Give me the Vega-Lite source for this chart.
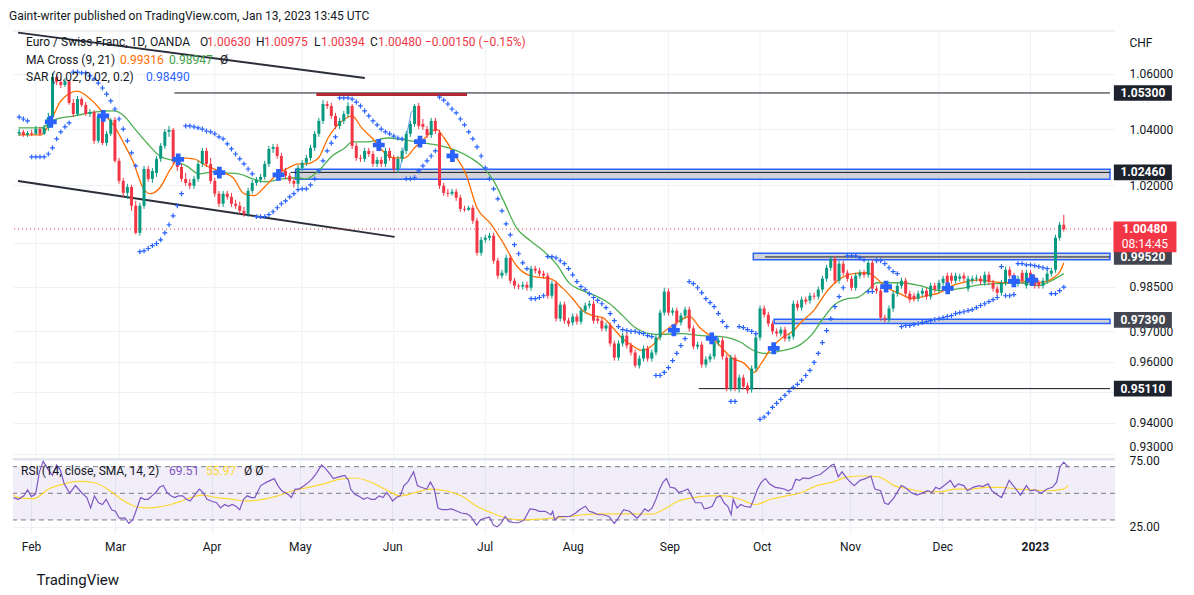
{
  "$schema": "https://vega.github.io/schema/vega-lite/v6.json",
  "background": "white",
  "padding": {"left": 8, "top": 9, "right": 6, "bottom": 6},
  "spacing": 1,
  "bounds": "flush",
  "title": {"text": "Gaint-writer published on TradingView.com, Jan 13, 2023 13:45 UTC", "anchor": "start", "fontSize": 12, "fontWeight": "normal", "color": "#131722", "offset": 6, "dx": -2},
  "config": {
    "font": "Roboto",
    "view": {"stroke": null},
    "axis": {"gridColor": "#eef1f6", "gridWidth": 1, "domain": false, "ticks": false, "labelColor": "#131722", "labelFontSize": 12, "labelOverlap": false, "labelFlush": false, "labelBound": false},
    "text": {"fontSize": 12}
  },
  "datasets": {
    "candles": [
      {"t":-4,"o":1.0383,"h":1.0400,"l":1.0375,"c":1.0390},
      {"t":-3,"o":1.0390,"h":1.0397,"l":1.0372,"c":1.0379},
      {"t":-2,"o":1.0379,"h":1.0393,"l":1.0372,"c":1.0386},
      {"t":-1,"o":1.0386,"h":1.0397,"l":1.0375,"c":1.0383},
      {"t":0,"o":1.0383,"h":1.0411,"l":1.0379,"c":1.0400},
      {"t":1,"o":1.0400,"h":1.0408,"l":1.0375,"c":1.0383},
      {"t":2,"o":1.0383,"h":1.0415,"l":1.0379,"c":1.0404},
      {"t":3,"o":1.0404,"h":1.0458,"l":1.0393,"c":1.0443},
      {"t":4,"o":1.0443,"h":1.0603,"l":1.0440,"c":1.0588},
      {"t":5,"o":1.0588,"h":1.0595,"l":1.0559,"c":1.0570},
      {"t":6,"o":1.0570,"h":1.0581,"l":1.0548,"c":1.0559},
      {"t":7,"o":1.0559,"h":1.0584,"l":1.0552,"c":1.0573},
      {"t":8,"o":1.0573,"h":1.0577,"l":1.0487,"c":1.0494},
      {"t":9,"o":1.0494,"h":1.0508,"l":1.0443,"c":1.0454},
      {"t":10,"o":1.0454,"h":1.0519,"l":1.0447,"c":1.0508},
      {"t":11,"o":1.0508,"h":1.0515,"l":1.0479,"c":1.0487},
      {"t":12,"o":1.0487,"h":1.0497,"l":1.0447,"c":1.0454},
      {"t":13,"o":1.0454,"h":1.0472,"l":1.0443,"c":1.0461},
      {"t":14,"o":1.0461,"h":1.0468,"l":1.0347,"c":1.0358},
      {"t":15,"o":1.0358,"h":1.0454,"l":1.0350,"c":1.0447},
      {"t":16,"o":1.0447,"h":1.0458,"l":1.0343,"c":1.0350},
      {"t":17,"o":1.0350,"h":1.0393,"l":1.0340,"c":1.0383},
      {"t":18,"o":1.0383,"h":1.0440,"l":1.0375,"c":1.0433},
      {"t":19,"o":1.0433,"h":1.0443,"l":1.0280,"c":1.0287},
      {"t":20,"o":1.0287,"h":1.0297,"l":1.0206,"c":1.0216},
      {"t":21,"o":1.0216,"h":1.0227,"l":1.0160,"c":1.0174},
      {"t":22,"o":1.0174,"h":1.0206,"l":1.0153,"c":1.0195},
      {"t":23,"o":1.0195,"h":1.0202,"l":1.0111,"c":1.0129},
      {"t":24,"o":1.0129,"h":1.0146,"l":1.0030,"c":1.0035},
      {"t":25,"o":1.0035,"h":1.0139,"l":1.0025,"c":1.0129},
      {"t":26,"o":1.0129,"h":1.0269,"l":1.0118,"c":1.0258},
      {"t":27,"o":1.0258,"h":1.0269,"l":1.0213,"c":1.0223},
      {"t":28,"o":1.0223,"h":1.0262,"l":1.0209,"c":1.0251},
      {"t":29,"o":1.0244,"h":1.0304,"l":1.0230,"c":1.0294},
      {"t":30,"o":1.0294,"h":1.0350,"l":1.0283,"c":1.0340},
      {"t":31,"o":1.0340,"h":1.0400,"l":1.0329,"c":1.0390},
      {"t":32,"o":1.0390,"h":1.0411,"l":1.0372,"c":1.0397},
      {"t":33,"o":1.0397,"h":1.0404,"l":1.0276,"c":1.0287},
      {"t":34,"o":1.0287,"h":1.0304,"l":1.0251,"c":1.0265},
      {"t":35,"o":1.0265,"h":1.0276,"l":1.0213,"c":1.0223},
      {"t":36,"o":1.0223,"h":1.0244,"l":1.0199,"c":1.0209},
      {"t":37,"o":1.0209,"h":1.0223,"l":1.0188,"c":1.0199},
      {"t":38,"o":1.0199,"h":1.0234,"l":1.0188,"c":1.0223},
      {"t":39,"o":1.0223,"h":1.0287,"l":1.0213,"c":1.0276},
      {"t":40,"o":1.0276,"h":1.0333,"l":1.0265,"c":1.0322},
      {"t":41,"o":1.0322,"h":1.0333,"l":1.0265,"c":1.0276},
      {"t":42,"o":1.0276,"h":1.0297,"l":1.0206,"c":1.0216},
      {"t":43,"o":1.0216,"h":1.0227,"l":1.0160,"c":1.0171},
      {"t":44,"o":1.0171,"h":1.0181,"l":1.0125,"c":1.0136},
      {"t":45,"o":1.0136,"h":1.0181,"l":1.0125,"c":1.0171},
      {"t":46,"o":1.0171,"h":1.0181,"l":1.0150,"c":1.0160},
      {"t":47,"o":1.0160,"h":1.0174,"l":1.0125,"c":1.0136},
      {"t":48,"o":1.0136,"h":1.0150,"l":1.0118,"c":1.0129},
      {"t":49,"o":1.0129,"h":1.0143,"l":1.0101,"c":1.0111},
      {"t":50,"o":1.0111,"h":1.0125,"l":1.0091,"c":1.0101},
      {"t":51,"o":1.0101,"h":1.0192,"l":1.0091,"c":1.0181},
      {"t":52,"o":1.0181,"h":1.0220,"l":1.0171,"c":1.0209},
      {"t":53,"o":1.0209,"h":1.0230,"l":1.0199,"c":1.0220},
      {"t":54,"o":1.0220,"h":1.0241,"l":1.0209,"c":1.0230},
      {"t":55,"o":1.0230,"h":1.0287,"l":1.0220,"c":1.0276},
      {"t":56,"o":1.0276,"h":1.0340,"l":1.0265,"c":1.0329},
      {"t":57,"o":1.0329,"h":1.0347,"l":1.0315,"c":1.0336},
      {"t":58,"o":1.0336,"h":1.0347,"l":1.0294,"c":1.0304},
      {"t":59,"o":1.0304,"h":1.0315,"l":1.0241,"c":1.0251},
      {"t":60,"o":1.0251,"h":1.0262,"l":1.0223,"c":1.0234},
      {"t":61,"o":1.0234,"h":1.0244,"l":1.0206,"c":1.0216},
      {"t":62,"o":1.0216,"h":1.0227,"l":1.0192,"c":1.0206},
      {"t":63,"o":1.0206,"h":1.0272,"l":1.0195,"c":1.0262},
      {"t":64,"o":1.0262,"h":1.0290,"l":1.0251,"c":1.0280},
      {"t":65,"o":1.0280,"h":1.0308,"l":1.0269,"c":1.0297},
      {"t":66,"o":1.0297,"h":1.0343,"l":1.0287,"c":1.0333},
      {"t":67,"o":1.0333,"h":1.0393,"l":1.0322,"c":1.0383},
      {"t":68,"o":1.0383,"h":1.0440,"l":1.0372,"c":1.0429},
      {"t":69,"o":1.0429,"h":1.0504,"l":1.0418,"c":1.0490},
      {"t":70,"o":1.0490,"h":1.0501,"l":1.0472,"c":1.0483},
      {"t":71,"o":1.0483,"h":1.0494,"l":1.0436,"c":1.0447},
      {"t":72,"o":1.0447,"h":1.0458,"l":1.0400,"c":1.0411},
      {"t":73,"o":1.0411,"h":1.0440,"l":1.0400,"c":1.0429},
      {"t":74,"o":1.0429,"h":1.0465,"l":1.0418,"c":1.0454},
      {"t":75,"o":1.0454,"h":1.0497,"l":1.0443,"c":1.0483},
      {"t":76,"o":1.0483,"h":1.0490,"l":1.0329,"c":1.0340},
      {"t":77,"o":1.0340,"h":1.0350,"l":1.0287,"c":1.0297},
      {"t":78,"o":1.0297,"h":1.0308,"l":1.0283,"c":1.0294},
      {"t":79,"o":1.0294,"h":1.0333,"l":1.0283,"c":1.0322},
      {"t":80,"o":1.0322,"h":1.0333,"l":1.0301,"c":1.0311},
      {"t":81,"o":1.0311,"h":1.0322,"l":1.0265,"c":1.0276},
      {"t":82,"o":1.0276,"h":1.0301,"l":1.0265,"c":1.0290},
      {"t":83,"o":1.0290,"h":1.0301,"l":1.0265,"c":1.0276},
      {"t":84,"o":1.0276,"h":1.0333,"l":1.0265,"c":1.0322},
      {"t":85,"o":1.0322,"h":1.0333,"l":1.0287,"c":1.0297},
      {"t":86,"o":1.0297,"h":1.0308,"l":1.0248,"c":1.0258},
      {"t":87,"o":1.0258,"h":1.0304,"l":1.0244,"c":1.0294},
      {"t":88,"o":1.0294,"h":1.0333,"l":1.0283,"c":1.0322},
      {"t":89,"o":1.0322,"h":1.0393,"l":1.0311,"c":1.0383},
      {"t":90,"o":1.0383,"h":1.0429,"l":1.0372,"c":1.0418},
      {"t":91,"o":1.0418,"h":1.0490,"l":1.0408,"c":1.0483},
      {"t":92,"o":1.0483,"h":1.0494,"l":1.0400,"c":1.0411},
      {"t":93,"o":1.0418,"h":1.0436,"l":1.0397,"c":1.0408},
      {"t":94,"o":1.0400,"h":1.0411,"l":1.0368,"c":1.0379},
      {"t":95,"o":1.0379,"h":1.0440,"l":1.0368,"c":1.0429},
      {"t":96,"o":1.0429,"h":1.0440,"l":1.0383,"c":1.0393},
      {"t":97,"o":1.0386,"h":1.0397,"l":1.0188,"c":1.0199},
      {"t":98,"o":1.0199,"h":1.0209,"l":1.0164,"c":1.0174},
      {"t":99,"o":1.0174,"h":1.0188,"l":1.0160,"c":1.0171},
      {"t":100,"o":1.0171,"h":1.0188,"l":1.0164,"c":1.0178},
      {"t":101,"o":1.0178,"h":1.0188,"l":1.0146,"c":1.0157},
      {"t":102,"o":1.0157,"h":1.0167,"l":1.0108,"c":1.0118},
      {"t":103,"o":1.0118,"h":1.0129,"l":1.0108,"c":1.0115},
      {"t":104,"o":1.0115,"h":1.0129,"l":1.0111,"c":1.0122},
      {"t":105,"o":1.0122,"h":1.0132,"l":1.0066,"c":1.0077},
      {"t":106,"o":1.0077,"h":1.0087,"l":0.9956,"c":0.9966},
      {"t":107,"o":0.9966,"h":1.0021,"l":0.9956,"c":1.0011},
      {"t":108,"o":1.0011,"h":1.0028,"l":1.0001,"c":1.0018},
      {"t":109,"o":1.0018,"h":1.0035,"l":1.0008,"c":1.0025},
      {"t":110,"o":1.0025,"h":1.0035,"l":0.9929,"c":0.9939},
      {"t":111,"o":0.9939,"h":0.9949,"l":0.9878,"c":0.9888},
      {"t":112,"o":0.9888,"h":0.9908,"l":0.9878,"c":0.9898},
      {"t":113,"o":0.9898,"h":0.9960,"l":0.9888,"c":0.9949},
      {"t":114,"o":0.9949,"h":0.9960,"l":0.9861,"c":0.9871},
      {"t":115,"o":0.9871,"h":0.9881,"l":0.9844,"c":0.9854},
      {"t":116,"o":0.9854,"h":0.9861,"l":0.9841,"c":0.9851},
      {"t":117,"o":0.9851,"h":0.9868,"l":0.9841,"c":0.9857},
      {"t":118,"o":0.9857,"h":0.9868,"l":0.9837,"c":0.9847},
      {"t":119,"o":0.9847,"h":0.9922,"l":0.9837,"c":0.9912},
      {"t":120,"o":0.9912,"h":0.9922,"l":0.9895,"c":0.9905},
      {"t":121,"o":0.9905,"h":0.9915,"l":0.9885,"c":0.9895},
      {"t":122,"o":0.9895,"h":0.9905,"l":0.9878,"c":0.9888},
      {"t":123,"o":0.9888,"h":0.9898,"l":0.9810,"c":0.9820},
      {"t":124,"o":0.9820,"h":0.9871,"l":0.9810,"c":0.9861},
      {"t":125,"o":0.9861,"h":0.9871,"l":0.9733,"c":0.9743},
      {"t":126,"o":0.9743,"h":0.9800,"l":0.9733,"c":0.9790},
      {"t":127,"o":0.9790,"h":0.9800,"l":0.9726,"c":0.9736},
      {"t":128,"o":0.9736,"h":0.9746,"l":0.9716,"c":0.9726},
      {"t":129,"o":0.9730,"h":0.9760,"l":0.9720,"c":0.9750},
      {"t":130,"o":0.9750,"h":0.9760,"l":0.9723,"c":0.9733},
      {"t":131,"o":0.9733,"h":0.9780,"l":0.9723,"c":0.9770},
      {"t":132,"o":0.9770,"h":0.9797,"l":0.9760,"c":0.9787},
      {"t":133,"o":0.9787,"h":0.9804,"l":0.9777,"c":0.9793},
      {"t":134,"o":0.9793,"h":0.9804,"l":0.9726,"c":0.9736},
      {"t":135,"o":0.9743,"h":0.9753,"l":0.9726,"c":0.9736},
      {"t":136,"o":0.9736,"h":0.9746,"l":0.9700,"c":0.9710},
      {"t":137,"o":0.9710,"h":0.9730,"l":0.9700,"c":0.9720},
      {"t":138,"o":0.9720,"h":0.9730,"l":0.9650,"c":0.9660},
      {"t":139,"o":0.9660,"h":0.9670,"l":0.9603,"c":0.9613},
      {"t":140,"o":0.9613,"h":0.9670,"l":0.9603,"c":0.9660},
      {"t":141,"o":0.9660,"h":0.9696,"l":0.9650,"c":0.9686},
      {"t":142,"o":0.9686,"h":0.9696,"l":0.9643,"c":0.9653},
      {"t":143,"o":0.9653,"h":0.9663,"l":0.9620,"c":0.9630},
      {"t":144,"o":0.9630,"h":0.9640,"l":0.9580,"c":0.9587},
      {"t":145,"o":0.9587,"h":0.9620,"l":0.9577,"c":0.9610},
      {"t":146,"o":0.9610,"h":0.9653,"l":0.9600,"c":0.9643},
      {"t":147,"o":0.9643,"h":0.9653,"l":0.9600,"c":0.9610},
      {"t":148,"o":0.9610,"h":0.9640,"l":0.9600,"c":0.9630},
      {"t":149,"o":0.9630,"h":0.9690,"l":0.9620,"c":0.9680},
      {"t":150,"o":0.9680,"h":0.9773,"l":0.9670,"c":0.9763},
      {"t":151,"o":0.9763,"h":0.9847,"l":0.9753,"c":0.9834},
      {"t":152,"o":0.9834,"h":0.9844,"l":0.9753,"c":0.9763},
      {"t":153,"o":0.9763,"h":0.9780,"l":0.9753,"c":0.9770},
      {"t":154,"o":0.9770,"h":0.9780,"l":0.9720,"c":0.9730},
      {"t":155,"o":0.9730,"h":0.9763,"l":0.9720,"c":0.9753},
      {"t":156,"o":0.9753,"h":0.9783,"l":0.9743,"c":0.9773},
      {"t":157,"o":0.9773,"h":0.9783,"l":0.9700,"c":0.9710},
      {"t":158,"o":0.9710,"h":0.9720,"l":0.9640,"c":0.9650},
      {"t":159,"o":0.9650,"h":0.9666,"l":0.9640,"c":0.9656},
      {"t":160,"o":0.9656,"h":0.9666,"l":0.9580,"c":0.9590},
      {"t":161,"o":0.9590,"h":0.9617,"l":0.9580,"c":0.9607},
      {"t":162,"o":0.9607,"h":0.9627,"l":0.9597,"c":0.9617},
      {"t":163,"o":0.9617,"h":0.9673,"l":0.9607,"c":0.9663},
      {"t":164,"o":0.9663,"h":0.9680,"l":0.9653,"c":0.9670},
      {"t":165,"o":0.9670,"h":0.9680,"l":0.9607,"c":0.9617},
      {"t":166,"o":0.9613,"h":0.9623,"l":0.9502,"c":0.9511},
      {"t":167,"o":0.9511,"h":0.9623,"l":0.9502,"c":0.9613},
      {"t":168,"o":0.9613,"h":0.9623,"l":0.9502,"c":0.9511},
      {"t":169,"o":0.9511,"h":0.9557,"l":0.9498,"c":0.9547},
      {"t":170,"o":0.9547,"h":0.9557,"l":0.9508,"c":0.9518},
      {"t":171,"o":0.9521,"h":0.9531,"l":0.9495,"c":0.9505},
      {"t":172,"o":0.9508,"h":0.9587,"l":0.9498,"c":0.9577},
      {"t":173,"o":0.9577,"h":0.9690,"l":0.9567,"c":0.9680},
      {"t":174,"o":0.9680,"h":0.9787,"l":0.9670,"c":0.9777},
      {"t":175,"o":0.9777,"h":0.9787,"l":0.9746,"c":0.9756},
      {"t":176,"o":0.9756,"h":0.9766,"l":0.9716,"c":0.9726},
      {"t":177,"o":0.9726,"h":0.9736,"l":0.9690,"c":0.9700},
      {"t":178,"o":0.9700,"h":0.9710,"l":0.9683,"c":0.9693},
      {"t":179,"o":0.9693,"h":0.9716,"l":0.9683,"c":0.9706},
      {"t":180,"o":0.9706,"h":0.9716,"l":0.9666,"c":0.9676},
      {"t":181,"o":0.9676,"h":0.9693,"l":0.9666,"c":0.9683},
      {"t":182,"o":0.9683,"h":0.9804,"l":0.9673,"c":0.9793},
      {"t":183,"o":0.9793,"h":0.9804,"l":0.9770,"c":0.9780},
      {"t":184,"o":0.9780,"h":0.9817,"l":0.9770,"c":0.9807},
      {"t":185,"o":0.9807,"h":0.9817,"l":0.9790,"c":0.9800},
      {"t":186,"o":0.9804,"h":0.9830,"l":0.9793,"c":0.9820},
      {"t":187,"o":0.9820,"h":0.9830,"l":0.9807,"c":0.9817},
      {"t":188,"o":0.9817,"h":0.9851,"l":0.9807,"c":0.9841},
      {"t":189,"o":0.9841,"h":0.9888,"l":0.9830,"c":0.9878},
      {"t":190,"o":0.9878,"h":0.9925,"l":0.9868,"c":0.9915},
      {"t":191,"o":0.9915,"h":0.9956,"l":0.9905,"c":0.9946},
      {"t":192,"o":0.9946,"h":0.9956,"l":0.9861,"c":0.9871},
      {"t":193,"o":0.9871,"h":0.9939,"l":0.9861,"c":0.9929},
      {"t":194,"o":0.9929,"h":0.9939,"l":0.9888,"c":0.9898},
      {"t":195,"o":0.9898,"h":0.9908,"l":0.9868,"c":0.9878},
      {"t":196,"o":0.9878,"h":0.9888,"l":0.9837,"c":0.9847},
      {"t":197,"o":0.9847,"h":0.9898,"l":0.9837,"c":0.9888},
      {"t":198,"o":0.9888,"h":0.9908,"l":0.9878,"c":0.9898},
      {"t":199,"o":0.9898,"h":0.9908,"l":0.9881,"c":0.9891},
      {"t":200,"o":0.9891,"h":0.9942,"l":0.9881,"c":0.9932},
      {"t":201,"o":0.9932,"h":0.9942,"l":0.9834,"c":0.9844},
      {"t":202,"o":0.9844,"h":0.9854,"l":0.9827,"c":0.9837},
      {"t":203,"o":0.9837,"h":0.9847,"l":0.9736,"c":0.9746},
      {"t":204,"o":0.9746,"h":0.9756,"l":0.9730,"c":0.9740},
      {"t":205,"o":0.9740,"h":0.9787,"l":0.9730,"c":0.9777},
      {"t":206,"o":0.9777,"h":0.9837,"l":0.9766,"c":0.9827},
      {"t":207,"o":0.9827,"h":0.9864,"l":0.9817,"c":0.9854},
      {"t":208,"o":0.9854,"h":0.9881,"l":0.9844,"c":0.9871},
      {"t":209,"o":0.9871,"h":0.9881,"l":0.9817,"c":0.9827},
      {"t":210,"o":0.9827,"h":0.9837,"l":0.9797,"c":0.9807},
      {"t":211,"o":0.9820,"h":0.9830,"l":0.9800,"c":0.9810},
      {"t":212,"o":0.9810,"h":0.9837,"l":0.9800,"c":0.9827},
      {"t":213,"o":0.9827,"h":0.9847,"l":0.9817,"c":0.9837},
      {"t":214,"o":0.9837,"h":0.9847,"l":0.9807,"c":0.9817},
      {"t":215,"o":0.9817,"h":0.9864,"l":0.9807,"c":0.9854},
      {"t":216,"o":0.9854,"h":0.9864,"l":0.9830,"c":0.9841},
      {"t":217,"o":0.9841,"h":0.9874,"l":0.9830,"c":0.9864},
      {"t":218,"o":0.9864,"h":0.9888,"l":0.9854,"c":0.9878},
      {"t":219,"o":0.9888,"h":0.9898,"l":0.9854,"c":0.9864},
      {"t":220,"o":0.9888,"h":0.9898,"l":0.9861,"c":0.9871},
      {"t":221,"o":0.9871,"h":0.9898,"l":0.9861,"c":0.9888},
      {"t":222,"o":0.9878,"h":0.9895,"l":0.9868,"c":0.9885},
      {"t":223,"o":0.9888,"h":0.9898,"l":0.9868,"c":0.9878},
      {"t":224,"o":0.9844,"h":0.9888,"l":0.9834,"c":0.9878},
      {"t":225,"o":0.9871,"h":0.9888,"l":0.9861,"c":0.9878},
      {"t":226,"o":0.9878,"h":0.9891,"l":0.9868,"c":0.9881},
      {"t":227,"o":0.9878,"h":0.9888,"l":0.9857,"c":0.9868},
      {"t":228,"o":0.9864,"h":0.9902,"l":0.9854,"c":0.9891},
      {"t":229,"o":0.9891,"h":0.9902,"l":0.9857,"c":0.9868},
      {"t":230,"o":0.9864,"h":0.9874,"l":0.9834,"c":0.9844},
      {"t":231,"o":0.9844,"h":0.9854,"l":0.9820,"c":0.9830},
      {"t":232,"o":0.9830,"h":0.9874,"l":0.9820,"c":0.9864},
      {"t":233,"o":0.9864,"h":0.9919,"l":0.9854,"c":0.9908},
      {"t":234,"o":0.9908,"h":0.9919,"l":0.9878,"c":0.9888},
      {"t":235,"o":0.9888,"h":0.9898,"l":0.9851,"c":0.9861},
      {"t":236,"o":0.9861,"h":0.9888,"l":0.9851,"c":0.9878},
      {"t":237,"o":0.9898,"h":0.9908,"l":0.9861,"c":0.9871},
      {"t":238,"o":0.9854,"h":0.9908,"l":0.9844,"c":0.9898},
      {"t":239,"o":0.9898,"h":0.9908,"l":0.9868,"c":0.9878},
      {"t":240,"o":0.9881,"h":0.9891,"l":0.9844,"c":0.9854},
      {"t":241,"o":0.9864,"h":0.9874,"l":0.9844,"c":0.9854},
      {"t":242,"o":0.9854,"h":0.9881,"l":0.9844,"c":0.9871},
      {"t":243,"o":0.9871,"h":0.9905,"l":0.9861,"c":0.9895},
      {"t":244,"o":0.9895,"h":0.9915,"l":0.9885,"c":0.9905},
      {"t":245,"o":0.9908,"h":1.0028,"l":0.9898,"c":1.0018},
      {"t":246,"o":1.0018,"h":1.0073,"l":1.0008,"c":1.0063},
      {"t":247,"o":1.0063,"h":1.00975,"l":1.00394,"c":1.0048}
    ],
    "sar": [
      {"t":-4,"v":1.0443},{"t":-3,"v":1.0436},{"t":-2,"v":1.0429},{"t":-1,"v":1.0301},{"t":0,"v":1.0301},{"t":1,"v":1.0301},{"t":2,"v":1.0301},{"t":3,"v":1.0311},{"t":4,"v":1.0333},{"t":5,"v":1.0365},{"t":6,"v":1.0390},{"t":7,"v":1.0408},{"t":8,"v":1.0422},
      {"t":9,"v":1.0606},{"t":10,"v":1.0606},{"t":11,"v":1.0603},{"t":12,"v":1.0603},{"t":13,"v":1.0592},{"t":14,"v":1.0581},{"t":15,"v":1.0566},{"t":16,"v":1.0548},{"t":17,"v":1.0526},{"t":18,"v":1.0501},{"t":19,"v":1.0472},{"t":20,"v":1.0436},{"t":21,"v":1.0400},{"t":22,"v":1.0358},{"t":23,"v":1.0315},{"t":24,"v":1.0269},
      {"t":25,"v":0.9970},{"t":26,"v":0.9973},{"t":27,"v":0.9981},{"t":28,"v":0.9991},{"t":29,"v":0.9998},{"t":30,"v":1.0011},{"t":31,"v":1.0035},{"t":32,"v":1.0063},{"t":33,"v":1.0094},{"t":34,"v":1.0129},{"t":35,"v":1.0171},
      {"t":36,"v":1.0411},{"t":37,"v":1.0411},{"t":38,"v":1.0408},{"t":39,"v":1.0404},{"t":40,"v":1.0400},{"t":41,"v":1.0393},{"t":42,"v":1.0390},{"t":43,"v":1.0383},{"t":44,"v":1.0372},{"t":45,"v":1.0365},{"t":46,"v":1.0347},{"t":47,"v":1.0329},{"t":48,"v":1.0311},{"t":49,"v":1.0294},{"t":50,"v":1.0276},{"t":51,"v":1.0258},{"t":52,"v":1.0241},
      {"t":53,"v":1.0091},{"t":54,"v":1.0091},{"t":55,"v":1.0091},{"t":56,"v":1.0098},{"t":57,"v":1.0108},{"t":58,"v":1.0122},{"t":59,"v":1.0136},{"t":60,"v":1.0146},{"t":61,"v":1.0160},{"t":62,"v":1.0171},{"t":63,"v":1.0185},{"t":64,"v":1.0188},{"t":65,"v":1.0188},{"t":66,"v":1.0202},{"t":67,"v":1.0223},{"t":68,"v":1.0251},{"t":69,"v":1.0287},{"t":70,"v":1.0322},{"t":71,"v":1.0350},{"t":72,"v":1.0372},
      {"t":73,"v":1.0512},{"t":74,"v":1.0512},{"t":75,"v":1.0512},{"t":76,"v":1.0508},{"t":77,"v":1.0497},{"t":78,"v":1.0483},{"t":79,"v":1.0465},{"t":80,"v":1.0447},{"t":81,"v":1.0429},{"t":82,"v":1.0415},{"t":83,"v":1.0400},{"t":84,"v":1.0390},{"t":85,"v":1.0383},{"t":86,"v":1.0375},{"t":87,"v":1.0368},{"t":88,"v":1.0365},
      {"t":89,"v":1.0223},{"t":90,"v":1.0223},{"t":91,"v":1.0227},{"t":92,"v":1.0251},{"t":93,"v":1.0269},{"t":94,"v":1.0287},{"t":95,"v":1.0304},{"t":96,"v":1.0322},
      {"t":97,"v":1.0515},{"t":98,"v":1.0504},{"t":99,"v":1.0490},{"t":100,"v":1.0472},{"t":101,"v":1.0458},{"t":102,"v":1.0436},{"t":103,"v":1.0415},{"t":104,"v":1.0390},{"t":105,"v":1.0365},{"t":106,"v":1.0336},{"t":107,"v":1.0304},{"t":108,"v":1.0262},{"t":109,"v":1.0223},{"t":110,"v":1.0188},{"t":111,"v":1.0153},{"t":112,"v":1.0111},{"t":113,"v":1.0066},{"t":114,"v":1.0028},{"t":115,"v":0.9994},{"t":116,"v":0.9963},{"t":117,"v":0.9932},{"t":118,"v":0.9912},
      {"t":119,"v":0.9810},{"t":120,"v":0.9810},{"t":121,"v":0.9814},{"t":122,"v":0.9820},
      {"t":123,"v":0.9953},{"t":124,"v":0.9953},{"t":125,"v":0.9949},{"t":126,"v":0.9939},{"t":127,"v":0.9929},{"t":128,"v":0.9912},{"t":129,"v":0.9891},{"t":130,"v":0.9868},{"t":131,"v":0.9851},{"t":132,"v":0.9841},{"t":133,"v":0.9827},{"t":134,"v":0.9814},{"t":135,"v":0.9804},{"t":136,"v":0.9793},{"t":137,"v":0.9780},{"t":138,"v":0.9760},{"t":139,"v":0.9736},{"t":140,"v":0.9716},{"t":141,"v":0.9706},{"t":142,"v":0.9703},{"t":143,"v":0.9700},{"t":144,"v":0.9700},{"t":145,"v":0.9696},{"t":146,"v":0.9693},{"t":147,"v":0.9686},{"t":148,"v":0.9683},
      {"t":149,"v":0.9554},{"t":150,"v":0.9554},{"t":151,"v":0.9564},{"t":152,"v":0.9580},{"t":153,"v":0.9603},{"t":154,"v":0.9627},{"t":155,"v":0.9653},{"t":156,"v":0.9676},
      {"t":157,"v":0.9868},{"t":158,"v":0.9861},{"t":159,"v":0.9847},{"t":160,"v":0.9830},{"t":161,"v":0.9810},{"t":162,"v":0.9797},{"t":163,"v":0.9783},{"t":164,"v":0.9760},{"t":165,"v":0.9733},{"t":166,"v":0.9716},
      {"t":167,"v":0.9469},{"t":168,"v":0.9469},
      {"t":169,"v":0.9716},{"t":170,"v":0.9713},{"t":171,"v":0.9706},{"t":172,"v":0.9700},{"t":173,"v":0.9693},
      {"t":174,"v":0.9411},{"t":175,"v":0.9418},{"t":176,"v":0.9431},{"t":177,"v":0.9450},{"t":178,"v":0.9463},{"t":179,"v":0.9476},{"t":180,"v":0.9489},{"t":181,"v":0.9502},{"t":182,"v":0.9515},{"t":183,"v":0.9525},{"t":184,"v":0.9538},{"t":185,"v":0.9554},{"t":186,"v":0.9571},{"t":187,"v":0.9597},{"t":188,"v":0.9627},{"t":189,"v":0.9663},{"t":190,"v":0.9703},{"t":191,"v":0.9743},{"t":192,"v":0.9783},{"t":193,"v":0.9817},{"t":194,"v":0.9847},
      {"t":195,"v":0.9956},{"t":196,"v":0.9956},{"t":197,"v":0.9956},{"t":198,"v":0.9949},{"t":199,"v":0.9942},
      {"t":200,"v":0.9834},{"t":201,"v":0.9834},
      {"t":202,"v":0.9939},{"t":203,"v":0.9939},{"t":204,"v":0.9929},{"t":205,"v":0.9915},{"t":206,"v":0.9902},{"t":207,"v":0.9895},
      {"t":208,"v":0.9716},{"t":209,"v":0.9720},{"t":210,"v":0.9720},{"t":211,"v":0.9723},{"t":212,"v":0.9726},{"t":213,"v":0.9730},{"t":214,"v":0.9733},{"t":215,"v":0.9736},{"t":216,"v":0.9740},{"t":217,"v":0.9743},{"t":218,"v":0.9746},{"t":219,"v":0.9750},{"t":220,"v":0.9753},{"t":221,"v":0.9760},{"t":222,"v":0.9763},{"t":223,"v":0.9766},{"t":224,"v":0.9770},{"t":225,"v":0.9773},{"t":226,"v":0.9780},{"t":227,"v":0.9787},{"t":228,"v":0.9793},{"t":229,"v":0.9800},{"t":230,"v":0.9807},{"t":231,"v":0.9814},
      {"t":232,"v":0.9919},
      {"t":233,"v":0.9820},{"t":234,"v":0.9820},{"t":235,"v":0.9824},
      {"t":236,"v":0.9929},{"t":237,"v":0.9929},{"t":238,"v":0.9925},{"t":239,"v":0.9925},{"t":240,"v":0.9922},{"t":241,"v":0.9919},{"t":242,"v":0.9915},{"t":243,"v":0.9912},
      {"t":244,"v":0.9827},{"t":245,"v":0.9827},{"t":246,"v":0.9837},{"t":247,"v":0.9849}
    ],
    "ma9": [
      {"t":-4.2,"v":1.0379},{"t":1.2,"v":1.0379},{"t":3.6,"v":1.0429},{"t":6,"v":1.0501},{"t":10,"v":1.0537},{"t":13.1,"v":1.0508},{"t":16.4,"v":1.0454},{"t":18.8,"v":1.0411},{"t":21.2,"v":1.0347},{"t":23.6,"v":1.0276},{"t":25.5,"v":1.0199},{"t":27.4,"v":1.0171},{"t":29.8,"v":1.0192},{"t":32.1,"v":1.0251},{"t":34.5,"v":1.0297},{"t":37.9,"v":1.0294},{"t":41,"v":1.0269},{"t":44,"v":1.0251},{"t":47.4,"v":1.0227},{"t":50,"v":1.0171},{"t":52.4,"v":1.0164},{"t":54.8,"v":1.0192},{"t":57.6,"v":1.0234},{"t":60.7,"v":1.0262},{"t":63.1,"v":1.0276},{"t":64.8,"v":1.0276},{"t":67.9,"v":1.0297},{"t":70.2,"v":1.0368},{"t":73.6,"v":1.0429},{"t":76,"v":1.0447},{"t":78.3,"v":1.0404},{"t":81.4,"v":1.0358},{"t":83.8,"v":1.0315},{"t":86.2,"v":1.0297},{"t":88.6,"v":1.0297},{"t":91,"v":1.0333},{"t":93.3,"v":1.0365},{"t":96.2,"v":1.0400},{"t":98.1,"v":1.0368},{"t":100.5,"v":1.0311},{"t":103.3,"v":1.0241},{"t":106,"v":1.0122},{"t":109.3,"v":1.0066},{"t":112.4,"v":0.9998},{"t":115.5,"v":0.9922},{"t":118.8,"v":0.9888},{"t":121.9,"v":0.9881},{"t":123.6,"v":0.9878},{"t":126.7,"v":0.9844},{"t":129,"v":0.9810},{"t":131.4,"v":0.9770},{"t":133.8,"v":0.9753},{"t":136.2,"v":0.9746},{"t":138.6,"v":0.9713},{"t":141,"v":0.9676},{"t":143.3,"v":0.9653},{"t":145.7,"v":0.9637},{"t":148.1,"v":0.9653},{"t":150.5,"v":0.9693},{"t":153.6,"v":0.9726},{"t":157.1,"v":0.9750},{"t":159.5,"v":0.9713},{"t":162.4,"v":0.9680},{"t":164.8,"v":0.9646},{"t":167.1,"v":0.9613},{"t":170.2,"v":0.9594},{"t":172.6,"v":0.9564},{"t":174.3,"v":0.9594},{"t":176.7,"v":0.9644},{"t":179,"v":0.9676},{"t":182.1,"v":0.9703},{"t":183.8,"v":0.9730},{"t":186.9,"v":0.9770},{"t":190.2,"v":0.9837},{"t":193.3,"v":0.9878},{"t":196.4,"v":0.9895},{"t":199.8,"v":0.9898},{"t":201.2,"v":0.9888},{"t":204.5,"v":0.9847},{"t":207.6,"v":0.9827},{"t":210.7,"v":0.9810},{"t":214,"v":0.9820},{"t":217.1,"v":0.9830},{"t":220.2,"v":0.9854},{"t":223.6,"v":0.9868},{"t":226.7,"v":0.9874},{"t":229.8,"v":0.9868},{"t":233.1,"v":0.9864},{"t":236.2,"v":0.9871},{"t":239.3,"v":0.9864},{"t":242.6,"v":0.9868},{"t":244.5,"v":0.9881},{"t":246.2,"v":0.9905},{"t":247,"v":0.9932}
    ],
    "ma21": [
      {"t":-4.2,"v":1.0404},{"t":1.2,"v":1.0404},{"t":4.5,"v":1.0433},{"t":9.3,"v":1.0447},{"t":14,"v":1.0461},{"t":18.8,"v":1.0465},{"t":21.2,"v":1.0447},{"t":23.6,"v":1.0404},{"t":26.7,"v":1.0350},{"t":29.8,"v":1.0304},{"t":33.1,"v":1.0287},{"t":36.2,"v":1.0269},{"t":39.3,"v":1.0241},{"t":42.6,"v":1.0248},{"t":45.7,"v":1.0244},{"t":48.8,"v":1.0241},{"t":52.1,"v":1.0223},{"t":55.2,"v":1.0213},{"t":59.3,"v":1.0223},{"t":63.1,"v":1.0227},{"t":64.8,"v":1.0223},{"t":67.9,"v":1.0251},{"t":71.2,"v":1.0304},{"t":74.3,"v":1.0333},{"t":76,"v":1.0354},{"t":79.8,"v":1.0354},{"t":84.5,"v":1.0368},{"t":88.6,"v":1.0361},{"t":93.3,"v":1.0350},{"t":97.4,"v":1.0340},{"t":101.2,"v":1.0322},{"t":104.5,"v":1.0297},{"t":107.6,"v":1.0262},{"t":110,"v":1.0216},{"t":112.4,"v":1.0146},{"t":115.5,"v":1.0052},{"t":118.8,"v":1.0008},{"t":121.9,"v":0.9973},{"t":125,"v":0.9929},{"t":128.3,"v":0.9861},{"t":131.4,"v":0.9837},{"t":134.5,"v":0.9820},{"t":137.9,"v":0.9793},{"t":141,"v":0.9753},{"t":144,"v":0.9713},{"t":147.4,"v":0.9693},{"t":150.5,"v":0.9690},{"t":155.2,"v":0.9693},{"t":160,"v":0.9686},{"t":164.8,"v":0.9683},{"t":169.5,"v":0.9663},{"t":172,"v":0.9640},{"t":175,"v":0.9627},{"t":178.3,"v":0.9633},{"t":183.8,"v":0.9657},{"t":186.5,"v":0.9690},{"t":189,"v":0.9740},{"t":191.7,"v":0.9787},{"t":195,"v":0.9810},{"t":197.4,"v":0.9814},{"t":199.8,"v":0.9837},{"t":202.1,"v":0.9864},{"t":207.6,"v":0.9864},{"t":212.4,"v":0.9854},{"t":217.1,"v":0.9837},{"t":221.9,"v":0.9844},{"t":226.7,"v":0.9857},{"t":231.4,"v":0.9861},{"t":236.2,"v":0.9864},{"t":241,"v":0.9854},{"t":244,"v":0.9871},{"t":247,"v":0.9895}
    ],
    "crosses": [
      {"t":3.6,"v":1.0426},{"t":16.2,"v":1.0447},{"t":34.2,"v":1.0292},{"t":44.1,"v":1.0245},{"t":58.3,"v":1.0237},{"t":82.4,"v":1.0343},{"t":92.3,"v":1.0355},{"t":100.1,"v":1.0304},{"t":153.3,"v":0.9704},{"t":162.4,"v":0.9677},{"t":177.3,"v":0.9644},{"t":204.3,"v":0.9851},{"t":219.1,"v":0.9845},{"t":235.0,"v":0.9869},{"t":239.4,"v":0.9873}
    ],
    "rsi": [
      {"t":-4.2,"v":46.8},{"t":-3.0,"v":45.5},{"t":-1.7,"v":48.1},{"t":-0.8,"v":52.5},{"t":0.1,"v":47.5},{"t":1.1,"v":49.4},{"t":2.0,"v":66.1},{"t":2.9,"v":73.9},{"t":4.2,"v":67.4},{"t":5.1,"v":63.5},{"t":6.1,"v":71.3},{"t":7.0,"v":67.4},{"t":7.9,"v":57.1},{"t":9.2,"v":50.1},{"t":10.6,"v":55.8},{"t":12.0,"v":50.6},{"t":13.3,"v":46.8},{"t":14.2,"v":39.0},{"t":15.1,"v":48.1},{"t":16.1,"v":42.9},{"t":17.0,"v":41.6},{"t":17.9,"v":45.5},{"t":19.2,"v":37.7},{"t":20.1,"v":36.5},{"t":21.0,"v":31.3},{"t":22.4,"v":31.3},{"t":23.3,"v":27.4},{"t":24.2,"v":30.0},{"t":25.1,"v":37.7},{"t":26.1,"v":46.8},{"t":27.0,"v":45.5},{"t":27.9,"v":45.5},{"t":28.8,"v":48.1},{"t":29.7,"v":50.6},{"t":30.6,"v":54.5},{"t":31.5,"v":55.8},{"t":32.4,"v":50.6},{"t":33.3,"v":48.1},{"t":34.2,"v":46.8},{"t":35.1,"v":48.1},{"t":36.1,"v":48.1},{"t":37.0,"v":45.5},{"t":37.9,"v":44.2},{"t":38.8,"v":48.1},{"t":40.1,"v":53.2},{"t":41.0,"v":50.6},{"t":41.9,"v":45.5},{"t":42.9,"v":44.2},{"t":44.2,"v":42.9},{"t":45.1,"v":39.0},{"t":46.1,"v":41.6},{"t":47.0,"v":40.3},{"t":47.9,"v":41.6},{"t":48.8,"v":40.3},{"t":49.7,"v":37.7},{"t":50.6,"v":45.5},{"t":51.5,"v":48.1},{"t":52.4,"v":46.8},{"t":53.3,"v":46.8},{"t":54.7,"v":55.8},{"t":56.1,"v":58.4},{"t":57.0,"v":59.7},{"t":57.9,"v":61.0},{"t":58.8,"v":55.8},{"t":59.7,"v":51.9},{"t":61.1,"v":49.4},{"t":62.0,"v":46.8},{"t":62.9,"v":53.2},{"t":63.8,"v":53.2},{"t":65.1,"v":55.8},{"t":66.1,"v":58.4},{"t":67.0,"v":61.0},{"t":67.9,"v":64.8},{"t":69.2,"v":71.3},{"t":70.1,"v":68.7},{"t":71.1,"v":64.8},{"t":72.0,"v":61.0},{"t":73.3,"v":62.3},{"t":74.7,"v":63.5},{"t":75.6,"v":59.7},{"t":76.1,"v":53.2},{"t":77.0,"v":49.4},{"t":77.9,"v":48.1},{"t":79.2,"v":45.5},{"t":80.1,"v":46.8},{"t":81.0,"v":45.5},{"t":81.9,"v":45.5},{"t":82.9,"v":48.1},{"t":83.8,"v":46.8},{"t":84.7,"v":50.6},{"t":85.6,"v":46.8},{"t":86.1,"v":44.2},{"t":87.0,"v":46.8},{"t":87.9,"v":48.1},{"t":88.8,"v":55.8},{"t":89.7,"v":58.4},{"t":91.1,"v":66.1},{"t":92.0,"v":55.8},{"t":92.9,"v":54.5},{"t":94.2,"v":53.2},{"t":95.1,"v":58.4},{"t":96.0,"v":53.2},{"t":96.9,"v":39.0},{"t":97.9,"v":37.7},{"t":99.2,"v":37.7},{"t":100.1,"v":38.3},{"t":101.5,"v":36.5},{"t":102.4,"v":35.2},{"t":103.8,"v":34.6},{"t":104.7,"v":32.6},{"t":106.1,"v":26.1},{"t":107.0,"v":30.0},{"t":107.9,"v":31.3},{"t":109.2,"v":32.1},{"t":110.1,"v":26.1},{"t":111.0,"v":24.8},{"t":111.9,"v":27.4},{"t":112.9,"v":32.6},{"t":113.8,"v":28.7},{"t":115.1,"v":27.9},{"t":116.1,"v":27.9},{"t":117.4,"v":30.0},{"t":118.8,"v":38.3},{"t":120.1,"v":37.7},{"t":121.0,"v":36.5},{"t":122.4,"v":36.5},{"t":123.8,"v":33.9},{"t":124.2,"v":36.5},{"t":124.7,"v":30.0},{"t":125.6,"v":32.6},{"t":126.9,"v":32.6},{"t":128.3,"v":32.6},{"t":129.7,"v":35.2},{"t":130.6,"v":37.7},{"t":132.0,"v":40.3},{"t":132.9,"v":36.5},{"t":133.8,"v":35.7},{"t":135.1,"v":33.9},{"t":136.2,"v":33.9},{"t":137.6,"v":32.6},{"t":138.9,"v":27.4},{"t":139.8,"v":31.3},{"t":141.1,"v":37.7},{"t":142.5,"v":36.5},{"t":143.4,"v":33.9},{"t":144.3,"v":31.3},{"t":145.1,"v":33.9},{"t":146.1,"v":38.3},{"t":147.0,"v":36.5},{"t":147.9,"v":39.0},{"t":148.8,"v":45.5},{"t":149.7,"v":53.2},{"t":150.5,"v":58.4},{"t":151.3,"v":61.0},{"t":152.2,"v":54.5},{"t":153.3,"v":53.9},{"t":154.2,"v":50.6},{"t":155.5,"v":51.9},{"t":156.4,"v":53.2},{"t":157.3,"v":48.1},{"t":158.2,"v":42.9},{"t":159.6,"v":42.9},{"t":160.3,"v":38.3},{"t":161.3,"v":39.0},{"t":162.2,"v":40.3},{"t":163.2,"v":46.8},{"t":164.1,"v":48.1},{"t":165.0,"v":42.9},{"t":165.9,"v":40.3},{"t":166.7,"v":33.9},{"t":167.2,"v":45.5},{"t":168.1,"v":39.0},{"t":169.0,"v":41.6},{"t":169.9,"v":40.3},{"t":171.3,"v":39.5},{"t":172.1,"v":45.5},{"t":173.0,"v":53.2},{"t":173.9,"v":58.4},{"t":174.9,"v":61.0},{"t":175.8,"v":57.1},{"t":177.2,"v":54.5},{"t":178.4,"v":53.9},{"t":179.3,"v":53.2},{"t":180.3,"v":51.9},{"t":181.2,"v":53.2},{"t":182.1,"v":60.5},{"t":183.0,"v":59.7},{"t":183.8,"v":61.5},{"t":185.2,"v":61.0},{"t":186.6,"v":63.0},{"t":187.9,"v":64.1},{"t":189.2,"v":67.4},{"t":190.6,"v":71.3},{"t":191.2,"v":71.8},{"t":192.2,"v":62.3},{"t":193.1,"v":66.1},{"t":194.3,"v":61.0},{"t":195.1,"v":58.4},{"t":196.0,"v":55.8},{"t":197.4,"v":59.7},{"t":198.7,"v":61.0},{"t":200.0,"v":63.0},{"t":200.9,"v":53.2},{"t":202.3,"v":51.9},{"t":203.2,"v":42.9},{"t":204.1,"v":41.6},{"t":205.5,"v":46.8},{"t":207.2,"v":55.8},{"t":208.1,"v":54.5},{"t":209.5,"v":50.6},{"t":210.9,"v":48.6},{"t":212.2,"v":50.1},{"t":213.5,"v":51.9},{"t":214.5,"v":50.6},{"t":215.4,"v":54.5},{"t":216.3,"v":53.2},{"t":217.6,"v":56.3},{"t":218.9,"v":59.7},{"t":219.9,"v":54.5},{"t":220.8,"v":57.1},{"t":222.1,"v":55.8},{"t":223.0,"v":51.9},{"t":224.3,"v":54.5},{"t":225.7,"v":55.8},{"t":226.6,"v":55.0},{"t":227.9,"v":57.1},{"t":228.8,"v":51.9},{"t":230.2,"v":48.6},{"t":231.1,"v":46.8},{"t":232.9,"v":59.7},{"t":234.2,"v":54.5},{"t":235.6,"v":48.6},{"t":237.0,"v":55.8},{"t":237.9,"v":51.9},{"t":239.1,"v":52.6},{"t":240.5,"v":50.1},{"t":241.9,"v":53.2},{"t":243.2,"v":54.5},{"t":244.2,"v":58.4},{"t":245.0,"v":70.0},{"t":245.9,"v":73.4},{"t":247.0,"v":69.5}
    ],
    "rsima": [
      {"t":-4.2,"v":48.6},{"t":-3.0,"v":46.8},{"t":0.6,"v":46.0},{"t":4.2,"v":53.2},{"t":7.9,"v":57.1},{"t":11.5,"v":58.9},{"t":15.1,"v":57.9},{"t":18.8,"v":51.9},{"t":21.5,"v":45.5},{"t":24.2,"v":40.8},{"t":26.9,"v":39.0},{"t":29.7,"v":39.5},{"t":33.3,"v":41.6},{"t":37.0,"v":45.5},{"t":40.6,"v":48.6},{"t":44.2,"v":46.8},{"t":47.9,"v":45.5},{"t":51.5,"v":44.2},{"t":55.1,"v":45.5},{"t":58.8,"v":48.1},{"t":62.4,"v":51.9},{"t":66.1,"v":54.5},{"t":69.7,"v":57.1},{"t":73.3,"v":60.5},{"t":77.0,"v":61.5},{"t":80.6,"v":58.9},{"t":84.2,"v":53.2},{"t":87.9,"v":48.1},{"t":91.5,"v":50.6},{"t":95.1,"v":53.2},{"t":98.8,"v":51.9},{"t":102.4,"v":48.1},{"t":106.1,"v":40.3},{"t":109.7,"v":35.2},{"t":113.3,"v":31.3},{"t":117.0,"v":30.0},{"t":120.6,"v":30.5},{"t":124.2,"v":31.3},{"t":127.9,"v":32.6},{"t":131.5,"v":33.9},{"t":135.1,"v":34.6},{"t":139.8,"v":34.6},{"t":143.4,"v":34.6},{"t":147.9,"v":34.3},{"t":150.5,"v":37.7},{"t":154.2,"v":44.2},{"t":157.8,"v":46.8},{"t":161.5,"v":48.1},{"t":165.2,"v":48.1},{"t":168.8,"v":45.5},{"t":172.5,"v":41.6},{"t":176.1,"v":45.5},{"t":179.8,"v":48.1},{"t":183.5,"v":50.6},{"t":187.1,"v":55.8},{"t":190.8,"v":58.4},{"t":194.5,"v":62.3},{"t":198.2,"v":63.0},{"t":201.8,"v":62.3},{"t":205.5,"v":55.8},{"t":209.2,"v":53.2},{"t":212.8,"v":51.2},{"t":216.5,"v":51.2},{"t":220.1,"v":53.2},{"t":223.8,"v":53.2},{"t":227.5,"v":54.5},{"t":231.1,"v":54.5},{"t":234.8,"v":53.2},{"t":238.5,"v":52.6},{"t":242.1,"v":51.9},{"t":245.8,"v":53.2},{"t":247.0,"v":56.0}
    ]
  },
  "vconcat": [
    {
      "width": 1102,
      "height": 428,
      "layer": [
        {
          "data": {"values": [{"m": 0}, {"m": 20}, {"m": 43}, {"m": 64}, {"m": 86}, {"m": 108}, {"m": 129}, {"m": 152}, {"m": 174}, {"m": 195}, {"m": 217}, {"m": 239}]},
          "mark": {"type": "rule", "color": "#eef1f6", "strokeWidth": 1},
          "encoding": {
            "x": {"field": "m", "type": "quantitative", "scale": {"domain": [-4.286, 258.1], "nice": false, "zero": false}, "axis": null}
          }
        },
        {
          "data": {"values": [{"t0": 62.4, "p0": 1.0222, "p1": 1.0257}, {"t0": 172.4, "p0": 0.9942, "p1": 0.9965}, {"t0": 177.4, "p0": 0.9727, "p1": 0.9741}]},
          "mark": {"type": "rect", "fill": "#b2b5be", "fillOpacity": 0.6, "stroke": "#2962ff", "strokeWidth": 1.5},
          "encoding": {
            "x": {"field": "t0", "type": "quantitative"},
            "x2": {"datum": 258.1},
            "y": {"field": "p0", "type": "quantitative", "scale": {"type": "log", "domain": [0.92833, 1.0757], "nice": false},
                  "axis": {"orient": "right", "values": [1.06, 1.04, 1.02, 1.0, 0.985, 0.97, 0.96, 0.95, 0.94, 0.93], "format": ".5f",
                           "labelExpr": "datum.value == 1 || datum.value == 0.95 ? '' : datum.label", "labelPadding": 14, "grid": true,
                           "labelBaseline": {"condition": {"test": "datum.value < 0.935", "value": "bottom"}, "value": "middle"},
                           "title": "CHF", "titleAngle": 0, "titleAlign": "left", "titleBaseline": "middle", "titleX": 14, "titleY": 11,
                           "titleFontSize": 12, "titleFontWeight": "normal", "titleColor": "#131722"}},
            "y2": {"field": "p1"}
          }
        },
        {
          "data": {"values": [{}]},
          "mark": {"type": "rule", "color": "#e0e3eb", "strokeWidth": 1},
          "encoding": {"y": {"datum": 1.0757, "type": "quantitative"}}
        },
        {
          "data": {"values": [{}]},
          "mark": {"type": "rule", "color": "#e0e3eb", "strokeWidth": 2},
          "encoding": {"y": {"datum": 0.92833, "type": "quantitative"}}
        },
        {
          "data": {"values": [{"t0": 33.3, "p": 1.053}, {"t0": 61.2, "p": 1.0246}, {"t0": 175.2, "p": 0.9952}, {"t0": 159.3, "p": 0.9511}]},
          "mark": {"type": "rule", "color": "#131722", "strokeWidth": 1},
          "encoding": {"x": {"field": "t0", "type": "quantitative"}, "x2": {"datum": 258.1}, "y": {"field": "p", "type": "quantitative"}}
        },
        {
          "data": {"values": [{"t0": 67.4, "t1": 103.6, "p": 1.0524}]},
          "mark": {"type": "rule", "color": "#b22833", "strokeWidth": 3},
          "encoding": {"x": {"field": "t0", "type": "quantitative"}, "x2": {"field": "t1"}, "y": {"field": "p", "type": "quantitative"}}
        },
        {
          "data": {"values": [{"g": "a", "t": -4.28, "p": 1.0751}, {"g": "a", "t": 79.05, "p": 1.0584}, {"g": "b", "t": -4.28, "p": 1.0216}, {"g": "b", "t": 86.2, "p": 1.0021}]},
          "mark": {"type": "line", "color": "#2a2e39", "strokeWidth": 2},
          "encoding": {"x": {"field": "t", "type": "quantitative"}, "y": {"field": "p", "type": "quantitative"}, "detail": {"field": "g"}}
        },
        {
          "data": {"values": [{"t": 87.4, "p": 1.0251}, {"t": 90.2, "p": 1.0461}, {"t": 91.2, "p": 1.0472}]},
          "mark": {"type": "line", "color": "#5b9cf6", "strokeWidth": 1},
          "encoding": {"x": {"field": "t", "type": "quantitative"}, "y": {"field": "p", "type": "quantitative"}}
        },
        {
          "data": {"name": "ma21"},
          "mark": {"type": "line", "color": "#4caf50", "strokeWidth": 1.3, "interpolate": "monotone"},
          "encoding": {"x": {"field": "t", "type": "quantitative"}, "y": {"field": "v", "type": "quantitative"}}
        },
        {
          "data": {"name": "ma9"},
          "mark": {"type": "line", "color": "#ff6d00", "strokeWidth": 1.3, "interpolate": "monotone"},
          "encoding": {"x": {"field": "t", "type": "quantitative"}, "y": {"field": "v", "type": "quantitative"}}
        },
        {
          "data": {"name": "candles"},
          "mark": {"type": "rule", "strokeWidth": 1},
          "encoding": {
            "x": {"field": "t", "type": "quantitative"},
            "y": {"field": "l", "type": "quantitative"},
            "y2": {"field": "h"},
            "color": {"condition": {"test": "datum.c >= datum.o", "value": "#089981"}, "value": "#f23645"}
          }
        },
        {
          "data": {"name": "candles"},
          "mark": {"type": "bar", "size": 3},
          "encoding": {
            "x": {"field": "t", "type": "quantitative"},
            "y": {"field": "o", "type": "quantitative"},
            "y2": {"field": "c"},
            "color": {"condition": {"test": "datum.c >= datum.o", "value": "#089981"}, "value": "#f23645"}
          }
        },
        {
          "data": {"name": "sar"},
          "mark": {"type": "point", "shape": "M-1,0H1M0,-1V1", "filled": false, "size": 24, "strokeWidth": 1.2, "color": "#2962ff", "opacity": 1},
          "encoding": {"x": {"field": "t", "type": "quantitative"}, "y": {"field": "v", "type": "quantitative"}}
        },
        {
          "data": {"name": "crosses"},
          "mark": {"type": "point", "shape": "cross", "filled": true, "size": 140, "color": "#2962ff", "opacity": 1},
          "encoding": {"x": {"field": "t", "type": "quantitative"}, "y": {"field": "v", "type": "quantitative"}}
        },
        {
          "data": {"values": [{}]},
          "mark": {"type": "rule", "color": "#f23645", "strokeWidth": 1, "strokeDash": [1, 3]},
          "encoding": {"y": {"datum": 1.0048, "type": "quantitative"}}
        },
        {"data": {"values": [{}]}, "mark": {"type": "text", "text": "Euro / Swiss Franc, 1D, OANDA", "align": "left", "baseline": "middle", "dx": 8, "color": "#131722"}, "encoding": {"x": {"datum": -4.286, "type": "quantitative"}, "y": {"datum": 1.07163, "type": "quantitative"}}},
        {"data": {"values": [{}]}, "mark": {"type": "text", "text": "O", "align": "left", "baseline": "middle", "dx": 182, "color": "#131722"}, "encoding": {"x": {"datum": -4.286, "type": "quantitative"}, "y": {"datum": 1.07163, "type": "quantitative"}}},
        {"data": {"values": [{}]}, "mark": {"type": "text", "text": "1.00630", "align": "left", "baseline": "middle", "dx": 189, "color": "#f23645"}, "encoding": {"x": {"datum": -4.286, "type": "quantitative"}, "y": {"datum": 1.07163, "type": "quantitative"}}},
        {"data": {"values": [{}]}, "mark": {"type": "text", "text": "H", "align": "left", "baseline": "middle", "dx": 238, "color": "#131722"}, "encoding": {"x": {"datum": -4.286, "type": "quantitative"}, "y": {"datum": 1.07163, "type": "quantitative"}}},
        {"data": {"values": [{}]}, "mark": {"type": "text", "text": "1.00975", "align": "left", "baseline": "middle", "dx": 246, "color": "#f23645"}, "encoding": {"x": {"datum": -4.286, "type": "quantitative"}, "y": {"datum": 1.07163, "type": "quantitative"}}},
        {"data": {"values": [{}]}, "mark": {"type": "text", "text": "L", "align": "left", "baseline": "middle", "dx": 296, "color": "#131722"}, "encoding": {"x": {"datum": -4.286, "type": "quantitative"}, "y": {"datum": 1.07163, "type": "quantitative"}}},
        {"data": {"values": [{}]}, "mark": {"type": "text", "text": "1.00394", "align": "left", "baseline": "middle", "dx": 303, "color": "#f23645"}, "encoding": {"x": {"datum": -4.286, "type": "quantitative"}, "y": {"datum": 1.07163, "type": "quantitative"}}},
        {"data": {"values": [{}]}, "mark": {"type": "text", "text": "C", "align": "left", "baseline": "middle", "dx": 352, "color": "#131722"}, "encoding": {"x": {"datum": -4.286, "type": "quantitative"}, "y": {"datum": 1.07163, "type": "quantitative"}}},
        {"data": {"values": [{}]}, "mark": {"type": "text", "text": "1.00480", "align": "left", "baseline": "middle", "dx": 360, "color": "#f23645"}, "encoding": {"x": {"datum": -4.286, "type": "quantitative"}, "y": {"datum": 1.07163, "type": "quantitative"}}},
        {"data": {"values": [{}]}, "mark": {"type": "text", "text": "−0.00150 (−0.15%)", "align": "left", "baseline": "middle", "dx": 407, "color": "#f23645"}, "encoding": {"x": {"datum": -4.286, "type": "quantitative"}, "y": {"datum": 1.07163, "type": "quantitative"}}},
        {"data": {"values": [{}]}, "mark": {"type": "text", "text": "MA Cross (9, 21)", "align": "left", "baseline": "middle", "dx": 8, "color": "#131722"}, "encoding": {"x": {"datum": -4.286, "type": "quantitative"}, "y": {"datum": 1.06512, "type": "quantitative"}}},
        {"data": {"values": [{}]}, "mark": {"type": "text", "text": "0.99316", "align": "left", "baseline": "middle", "dx": 102, "color": "#ff6d00"}, "encoding": {"x": {"datum": -4.286, "type": "quantitative"}, "y": {"datum": 1.06512, "type": "quantitative"}}},
        {"data": {"values": [{}]}, "mark": {"type": "text", "text": "0.98947", "align": "left", "baseline": "middle", "dx": 151, "color": "#43a047"}, "encoding": {"x": {"datum": -4.286, "type": "quantitative"}, "y": {"datum": 1.06512, "type": "quantitative"}}},
        {"data": {"values": [{}]}, "mark": {"type": "text", "text": "Ø", "align": "left", "baseline": "middle", "dx": 202, "color": "#131722"}, "encoding": {"x": {"datum": -4.286, "type": "quantitative"}, "y": {"datum": 1.06512, "type": "quantitative"}}},
        {"data": {"values": [{}]}, "mark": {"type": "text", "text": "SAR (0.02, 0.02, 0.2)", "align": "left", "baseline": "middle", "dx": 8, "color": "#131722"}, "encoding": {"x": {"datum": -4.286, "type": "quantitative"}, "y": {"datum": 1.0588, "type": "quantitative"}}},
        {"data": {"values": [{}]}, "mark": {"type": "text", "text": "0.98490", "align": "left", "baseline": "middle", "dx": 128, "color": "#2962ff"}, "encoding": {"x": {"datum": -4.286, "type": "quantitative"}, "y": {"datum": 1.0588, "type": "quantitative"}}},
        {
          "data": {"values": [{"p": 1.053}, {"p": 1.0246}, {"p": 0.9511}]},
          "layer": [
            {"mark": {"type": "point", "shape": "M-1,-0.27H1V0.27H-1Z", "filled": true, "size": 3364, "color": "#1e222d", "opacity": 1},
             "encoding": {"x": {"datum": 266, "type": "quantitative"}, "y": {"field": "p", "type": "quantitative"}}},
            {"mark": {"type": "text", "color": "white", "fontWeight": "bold", "align": "center", "baseline": "middle"},
             "encoding": {"x": {"datum": 266, "type": "quantitative"}, "y": {"field": "p", "type": "quantitative"}, "text": {"field": "p", "type": "quantitative", "format": ".5f"}}}
          ]
        },
        {
          "data": {"values": [{"p": 0.9952}, {"p": 0.9739}]},
          "layer": [
            {"mark": {"type": "point", "shape": "M-1,-0.27H1V0.27H-1Z", "filled": true, "size": 3364, "color": "#434651", "opacity": 1},
             "encoding": {"x": {"datum": 266, "type": "quantitative"}, "y": {"field": "p", "type": "quantitative"}}},
            {"mark": {"type": "text", "color": "white", "fontWeight": "bold", "align": "center", "baseline": "middle"},
             "encoding": {"x": {"datum": 266, "type": "quantitative"}, "y": {"field": "p", "type": "quantitative"}, "text": {"field": "p", "type": "quantitative", "format": ".5f"}}}
          ]
        },
        {
          "data": {"values": [{"p": 1.0048}]},
          "layer": [
            {"mark": {"type": "point", "shape": "M-1,-0.24H1V0.74H-1Z", "filled": true, "size": 3969, "color": "#f23645", "opacity": 1},
             "encoding": {"x": {"datum": 266.5, "type": "quantitative"}, "y": {"field": "p", "type": "quantitative"}}},
            {"mark": {"type": "text", "color": "white", "fontWeight": "bold", "align": "center", "baseline": "middle"},
             "encoding": {"x": {"datum": 266.5, "type": "quantitative"}, "y": {"field": "p", "type": "quantitative"}, "text": {"field": "p", "type": "quantitative", "format": ".5f"}}},
            {"mark": {"type": "text", "text": "08:14:45", "color": "white", "align": "center", "baseline": "middle", "dy": 15},
             "encoding": {"x": {"datum": 266.5, "type": "quantitative"}, "y": {"field": "p", "type": "quantitative"}}}
          ]
        }
      ]
    },
    {
      "width": 1102,
      "height": 73,
      "layer": [
        {
          "data": {"values": [{}]},
          "mark": {"type": "rect", "color": "#7e57c2", "opacity": 0.1},
          "encoding": {
            "x": {"datum": -4.286, "type": "quantitative", "scale": {"domain": [-4.286, 258.1], "nice": false, "zero": false},
                  "axis": {"values": [0, 20, 43, 64, 86, 108, 129, 152, 174, 195, 217, 239], "grid": true, "labelPadding": 8,
                           "labelExpr": "['Feb','Mar','Apr','May','Jun','Jul','Aug','Sep','Oct','Nov','Dec','2023'][indexof([0,20,43,64,86,108,129,152,174,195,217,239], datum.value)]",
                           "labelFontWeight": {"condition": {"test": "datum.value == 239", "value": "bold"}, "value": "normal"},
                           "title": "TradingView", "titleFontSize": 15, "titleFontWeight": "normal", "titleColor": "#131722",
                           "titleAnchor": "start", "titleAlign": "left", "titlePadding": 20, "titleX": 23}},
            "x2": {"datum": 258.1},
            "y": {"datum": 70, "type": "quantitative", "scale": {"domain": [20.2, 75], "nice": false, "zero": false},
                  "axis": {"orient": "right", "values": [25, 50, 75], "format": ".2f", "labelPadding": 14, "grid": true, "title": null}},
            "y2": {"datum": 30}
          }
        },
        {
          "data": {"values": [{"r": 70}, {"r": 50}, {"r": 30}]},
          "mark": {"type": "rule", "color": "#787b86", "strokeWidth": 1, "strokeDash": [5, 4]},
          "encoding": {"y": {"field": "r", "type": "quantitative"}}
        },
        {
          "data": {"name": "rsima"},
          "mark": {"type": "line", "color": "#fdd835", "strokeWidth": 1.2, "interpolate": "monotone"},
          "encoding": {"x": {"field": "t", "type": "quantitative"}, "y": {"field": "v", "type": "quantitative"}}
        },
        {
          "data": {"name": "rsi"},
          "mark": {"type": "line", "color": "#7e57c2", "strokeWidth": 1.2},
          "encoding": {"x": {"field": "t", "type": "quantitative"}, "y": {"field": "v", "type": "quantitative"}}
        },
        {"data": {"values": [{}]}, "mark": {"type": "text", "text": "RSI (14, close, SMA, 14, 2)", "align": "left", "baseline": "middle", "dx": 8, "color": "#131722"}, "encoding": {"x": {"datum": -4.286, "type": "quantitative"}, "y": {"datum": 66.7, "type": "quantitative"}}},
        {"data": {"values": [{}]}, "mark": {"type": "text", "text": "69.51", "align": "left", "baseline": "middle", "dx": 156, "color": "#7e57c2"}, "encoding": {"x": {"datum": -4.286, "type": "quantitative"}, "y": {"datum": 66.7, "type": "quantitative"}}},
        {"data": {"values": [{}]}, "mark": {"type": "text", "text": "55.97", "align": "left", "baseline": "middle", "dx": 193, "color": "#fdd835"}, "encoding": {"x": {"datum": -4.286, "type": "quantitative"}, "y": {"datum": 66.7, "type": "quantitative"}}},
        {"data": {"values": [{}]}, "mark": {"type": "text", "text": "Ø  Ø", "align": "left", "baseline": "middle", "dx": 231, "color": "#131722"}, "encoding": {"x": {"datum": -4.286, "type": "quantitative"}, "y": {"datum": 66.7, "type": "quantitative"}}}
      ]
    }
  ]
}
